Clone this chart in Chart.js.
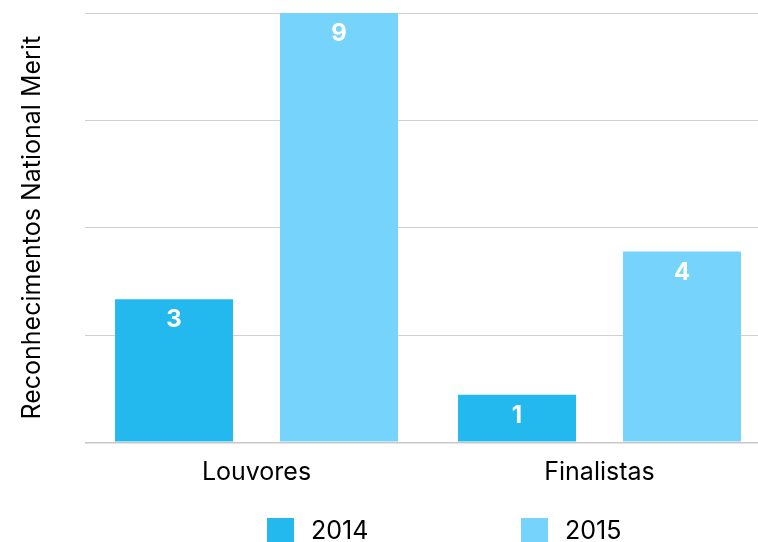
<!DOCTYPE html>
<html>
<head>
<meta charset="utf-8">
<script src="https://cdn.jsdelivr.net/npm/chart.js@4/dist/chart.umd.min.js"></script>
<style>
  html, body { margin: 0; padding: 0; background: #fff; overflow: hidden; }
  #wrap { width: 772px; height: 542px; }
</style>
</head>
<body>
<div id="wrap"><canvas id="chart" width="772" height="542"></canvas></div>
<script>
const categories = ['Louvores', 'Finalistas']
const seriesNames = ['2014', '2015']
const values2014 = [3, 1]
const values2015 = [9, 4]
const yMax = 9
const yStep = 2.25

const colors = ['#24b9ee', '#75d3fc']
const fontFamily = 'Inter, "Noto Sans", sans-serif'

// white value labels near the top of each bar
const valueLabels = {
  id: 'valueLabels',
  afterDatasetsDraw(chart) {
    const ctx = chart.ctx
    ctx.save()
    ctx.fillStyle = '#fff'
    ctx.font = 'bold 24px ' + fontFamily
    ctx.textAlign = 'center'
    ctx.textBaseline = 'middle'
    chart.data.datasets.forEach((ds, i) => {
      chart.getDatasetMeta(i).data.forEach((bar, j) => {
        ctx.fillText(String(ds.data[j]), bar.x, bar.y + 21)
      })
    })
    ctx.restore()
  }
}

// legend drawn by hand so the items can sit far apart
const wideLegend = {
  id: 'wideLegend',
  afterDraw(chart) {
    const ctx = chart.ctx
    const startX = 267, gap = 254, top = 518, box = 27
    ctx.save()
    ctx.font = '25px ' + fontFamily
    ctx.textBaseline = 'alphabetic'
    ctx.textAlign = 'left'
    chart.data.datasets.forEach((ds, i) => {
      const x = startX + i * gap
      ctx.fillStyle = ds.backgroundColor
      ctx.fillRect(x, top, box, box)
      ctx.fillStyle = '#000'
      ctx.fillText(ds.label, x + 44, 539)
    })
    ctx.restore()
  }
}

const ctx = document.getElementById('chart').getContext('2d')

const data = {
  labels: categories,
  datasets: [
    {
      label: seriesNames[0],
      data: values2014,
      backgroundColor: colors[0],
      barPercentage: 0.715,
      categoryPercentage: 0.962,
    },
    {
      label: seriesNames[1],
      data: values2015,
      backgroundColor: colors[1],
      barPercentage: 0.715,
      categoryPercentage: 0.962,
    },
  ],
}

const config = {
  type: 'bar',
  data: data,
  options: {
    responsive: false,
    animation: false,
    layout: {
      padding: { top: 13, right: 1, bottom: 39.6, left: 0 },
    },
    plugins: {
      legend: { display: false },
      tooltip: { enabled: false },
    },
    scales: {
      x: {
        grid: { display: false, drawTicks: false },
        border: { display: false },
        ticks: {
          color: '#000',
          padding: 15,
          font: { family: fontFamily, size: 25 },
        },
      },
      y: {
        min: 0,
        max: yMax,
        border: { display: false },
        grid: {
          drawTicks: false,
          color: (c) => c.tick && c.tick.value === 0 ? '#c8c8c8' : '#d0d0d0',
          lineWidth: (c) => c.tick && c.tick.value === 0 ? 1.6 : 1,
        },
        ticks: { display: false, stepSize: yStep },
        title: {
          display: true,
          text: 'Reconhecimentos National Merit',
          color: '#000',
          font: { family: fontFamily, size: 25 },
          padding: { top: 17, bottom: 38 },
        },
      },
    },
  },
  plugins: [valueLabels, wideLegend],
}

const myChart = new Chart(ctx, config)
</script>
</body>
</html>
